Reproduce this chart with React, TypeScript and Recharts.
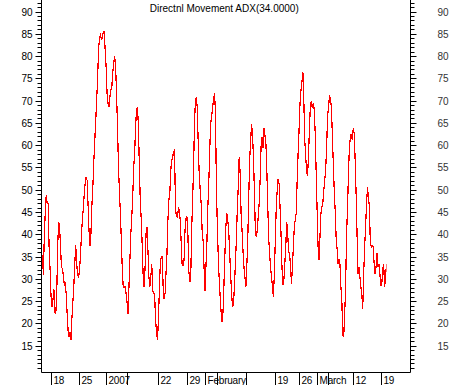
import { LineChart, Line, XAxis, YAxis } from 'recharts'

// ADX(34) readings, roughly one per pixel column, left to right
const adx = [
  35.0, 35.5, 30.9, 40.3, 45.1, 48.9, 47.0, 47.0, 37.3, 32.4,
  26.4, 23.8, 25.3, 27.9, 22.7, 22.3, 26.4, 37.3, 42.9, 41.8,
  37.3, 32.8, 32.4, 30.9, 28.7, 29.0, 26.8, 22.3, 18.5, 17.0,
  18.2, 16.3, 21.2, 24.9, 28.3, 33.6, 37.6, 33.6, 30.9, 30.5,
  32.0, 35.4, 39.9, 43.3, 45.9, 49.3, 51.6, 53.0, 52.2, 46.6,
  41.0, 37.6, 40.3, 46.6, 50.7, 56.4, 60.9, 65.3, 70.2, 74.7,
  81.5, 84.1, 84.8, 83.9, 84.1, 85.6, 85.6, 81.5, 77.7, 71.7,
  69.5, 68.7, 71.0, 72.5, 73.2, 76.6, 78.5, 80.0, 77.7, 71.3,
  64.2, 55.2, 49.6, 44.8, 38.8, 32.4, 28.3, 28.3, 28.3, 26.8,
  24.9, 22.3, 28.3, 34.3, 40.3, 44.0, 48.5, 55.2, 58.2, 64.2,
  68.0, 68.7, 64.2, 55.2, 47.0, 43.3, 37.3, 30.5, 28.3, 32.8,
  40.3, 41.8, 36.5, 30.5, 28.3, 30.5, 33.5, 27.5, 26.8, 26.9,
  20.8, 18.5, 16.3, 20.8, 27.5, 33.6, 35.0, 35.0, 28.3, 25.7,
  26.8, 31.3, 35.8,
  43.3, 47.8, 49.3, 54.5, 56.7, 57.5, 58.6, 59.0, 45.5, 44.4,
  44.0, 45.9, 45.5, 43.3, 38.0, 33.1, 33.1, 34.3, 41.0, 43.6,
  44.0, 40.3, 32.0, 29.4, 30.2, 41.0, 47.8, 54.9, 65.3, 70.2,
  71.0, 68.0, 59.7, 53.4, 50.0, 47.0, 41.0, 38.8, 32.8, 27.5,
  32.8, 38.0, 46.2, 51.5, 59.0, 64.9, 66.5, 68.7, 70.2, 71.7,
  68.0, 51.5, 41.8, 35.0, 29.8, 26.0, 22.7, 20.4, 22.7, 29.0,
  35.8, 41.8, 44.8, 43.3, 41.0, 35.8, 31.3, 26.8, 23.8, 24.5,
  28.3, 33.5, 38.8, 45.5, 50.7, 57.5, 53.8, 44.8, 41.0, 36.5,
  32.8, 30.5, 28.3, 32.8, 38.8, 47.8, 56.7, 60.8, 64.9, 62.7,
  57.5, 50.0, 41.0, 39.5, 41.0, 44.0, 47.0, 52.2, 59.7, 62.0,
  59.4, 63.9, 62.4, 61.2, 55.2, 47.0, 39.5, 35.8, 32.8, 30.5,
  28.3, 26.0, 31.3, 38.8, 46.2, 50.0, 52.6, 51.5, 46.2, 40.3,
  32.8, 28.7, 29.8,
  33.5, 37.3, 42.9, 40.3, 36.1, 36.1, 32.8, 29.0, 32.8, 37.3,
  41.8, 43.3, 44.8, 52.2, 58.2, 63.5, 69.5, 72.5, 74.3, 76.6,
  70.2, 61.2, 57.5, 54.0, 53.3, 58.2, 64.2, 69.5, 69.8, 68.4,
  69.5, 68.0, 62.7, 54.0, 45.5, 37.3, 34.3, 39.5, 44.8, 46.2,
  47.0, 50.0, 52.2, 54.5, 59.7, 66.5, 68.7, 71.0, 70.6, 68.7,
  62.7, 56.0, 50.0, 45.5, 39.5, 36.9, 33.5, 34.6, 33.5, 28.3,
  25.3, 17.4, 17.2, 22.3, 28.3, 40.3, 45.9, 54.0, 59.7, 62.0,
  62.7, 61.2, 63.9, 62.7, 56.9, 49.3, 40.3, 31.3, 32.8, 30.5,
  28.3, 26.8, 23.4, 31.3, 37.3, 41.8, 47.0, 50.7, 48.5, 46.2,
  38.0, 37.3, 37.6, 37.3, 33.5, 31.3, 32.8, 35.8, 32.8, 33.5,
  31.3, 28.7, 28.7, 32.0, 33.5, 28.3, 30.5, 33.5,
]

// week / month boundaries on the time axis (sample index) and their labels
const weekTicks = [10.3, 39.8, 68.9, 91.0, 122.6, 153.4, 172.8, 185.0, 215.9, 246.4, 271.3, 290.2, 301.8, 327.8, 358.0]
const weekLabels = ['18', '25', '2007', '', '22', '29', 'February', '', '', '19', '26', 'March', '', '12', '19']

const yTicks = [
  10, 11, 12, 13, 14, 15, 16, 17, 18, 19, 20, 21, 22, 23, 24, 25, 26, 27, 28, 29,
  30, 31, 32, 33, 34, 35, 36, 37, 38, 39, 40, 41, 42, 43, 44, 45, 46, 47, 48, 49,
  50, 51, 52, 53, 54, 55, 56, 57, 58, 59, 60, 61, 62, 63, 64, 65, 66, 67, 68, 69,
  70, 71, 72, 73, 74, 75, 76, 77, 78, 79, 80, 81, 82, 83, 84, 85, 86, 87, 88, 89,
  90, 91, 92,
]

const data = adx.map((v, i) => ({ i, v }))
const font = '"Liberation Sans", Arial, sans-serif'

const crisp = (n: number) => Math.floor(n) + 0.5
const isMajor = (v: number) => v % 5 === 0 && v >= 15 && v <= 90

function LeftTick(props: any) {
  const { x, y, payload } = props
  const v = payload.value
  const yy = crisp(y)
  return (
    <g>
      <line x1={x} x2={x - (isMajor(v) ? 6 : 4)} y1={yy} y2={yy} stroke="#000" />
      {isMajor(v) && (
        <text x={32.5} y={yy + 3.5} textAnchor="end" fontSize={10} fontFamily={font} fill="#000">{v}</text>
      )}
    </g>
  )
}

function RightTick(props: any) {
  const { x, y, payload } = props
  const v = payload.value
  const yy = crisp(y)
  return (
    <g>
      <line x1={x} x2={x + (isMajor(v) ? 6 : 4)} y1={yy} y2={yy} stroke="#000" />
      {isMajor(v) && (
        <text x={448.5} y={yy + 3.5} textAnchor="end" fontSize={10} fontFamily={font} fill="#333">{v}</text>
      )}
    </g>
  )
}

function BottomTick(props: any) {
  const { x, y, payload } = props
  const xx = crisp(x)
  const label = weekLabels[weekTicks.indexOf(payload.value)]
  return (
    <g>
      <line x1={xx} x2={xx} y1={y} y2={y + 13} stroke="#000" />
      {label && (
        <text x={xx + 2} y={y + 11.5} fontSize={10} fontFamily={font} fill="#000" letterSpacing={-0.2}>{label}</text>
      )}
    </g>
  )
}

export default function App() {
  return (
    <div style={{ position: 'absolute', left: 0, top: 0, width: 451, height: 385, background: '#fff' }}>
      <div style={{ position: 'absolute', left: 0, top: 4, width: 448.5, textAlign: 'center', fontFamily: font, fontSize: 10, lineHeight: '10px', color: '#000' }}>
        Directnl Movement ADX(34.0000)
      </div>
      <LineChart width={451} height={385} data={data} margin={{ top: 0, right: 0, bottom: 0, left: 0 }}>
        <XAxis dataKey="i" type="number" domain={[0, adx.length - 1]} ticks={weekTicks} interval={0}
          tickSize={0} tickMargin={0} height={12.5} padding={{ left: 0, right: 24 }}
          axisLine={{ stroke: '#000' }} tickLine={false} tick={BottomTick} allowDataOverflow />
        <YAxis yAxisId="l" orientation="left" width={41.5} domain={[9.09, 92.7]} ticks={yTicks} interval={0}
          tickSize={0} tickMargin={0} axisLine={{ stroke: '#000' }} tickLine={false} tick={LeftTick} allowDataOverflow />
        <YAxis yAxisId="r" orientation="right" width={40.5} domain={[9.09, 92.7]} ticks={yTicks} interval={0}
          tickSize={0} tickMargin={0} axisLine={{ stroke: '#000' }} tickLine={false} tick={RightTick} allowDataOverflow />
        <Line yAxisId="l" type="linear" dataKey="v" stroke="#ff0000" strokeWidth={1.2} dot={false}
          shapeRendering="crispEdges" isAnimationActive={false} />
      </LineChart>
    </div>
  )
}
